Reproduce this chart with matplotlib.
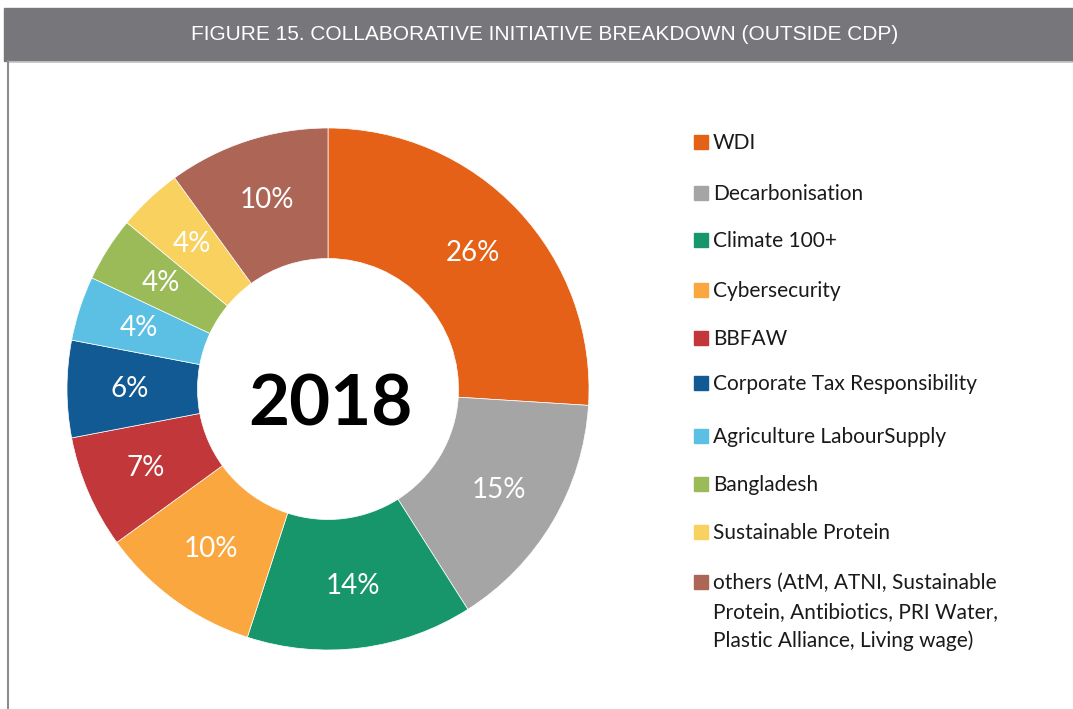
import matplotlib.pyplot as plt
from matplotlib.patches import Rectangle
from matplotlib.lines import Line2D

# data
categories = ['WDI', 'Decarbonisation', 'Climate 100+', 'Cybersecurity', 'BBFAW',
              'Corporate Tax Responsibility', 'Agriculture LabourSupply', 'Bangladesh',
              'Sustainable Protein',
              'others (AtM, ATNI, Sustainable\nProtein, Antibiotics, PRI Water,\nPlastic Alliance, Living wage)']
shares = [26, 15, 14, 10, 7, 6, 4, 4, 4, 10]
colors = ['#E46117', '#A5A5A5', '#17966B', '#F9A73E', '#C1373A',
          '#125A94', '#5BC0E3', '#9BBB59', '#F8D15F', '#AD6556']
title = 'FIGURE 15. COLLABORATIVE INITIATIVE BREAKDOWN (OUTSIDE CDP)'
centerLabel = '2018'

W, H = 1073, 709
fig = plt.figure(figsize=(W / 100, H / 100), dpi=100)

# header bar and frame
fig.patches.append(Rectangle((4 / W, 1 - 61 / H), 1 - 4 / W, 53 / H,
                             transform=fig.transFigure, color='#77777B', zorder=0))
fig.lines.append(Line2D([7.5 / W, 1], [1 - 61.5 / H, 1 - 61.5 / H],
                        transform=fig.transFigure, color='#C8C8C8', lw=1.2))
fig.lines.append(Line2D([7.5 / W, 7.5 / W], [0, 1 - 61 / H],
                        transform=fig.transFigure, color='#8C8C8C', lw=1.5))
fig.text(545 / W, 1 - 35 / H, title, color='white', fontsize=15,
         family='Liberation Sans', ha='center', va='center')

# donut
cx, cy, r = 328, 389, 261
ax = fig.add_axes([(cx - r) / W, (H - cy - r) / H, 2 * r / W, 2 * r / H])
wedges, texts, autotexts = ax.pie(
    shares, colors=colors, startangle=90, counterclock=False, radius=1,
    autopct=lambda p: '%d%%' % round(p), pctdistance=0.76,
    wedgeprops=dict(width=0.5, edgecolor='white', linewidth=0.5),
    textprops=dict(color='white', fontsize=20, family='Lato'))
ax.set_xlim(-1, 1)
ax.set_ylim(-1, 1)
ax.set_aspect('auto')
ax.axis('off')
ax.text(0.01, -0.06, centerLabel, ha='center', va='center', fontsize=51,
        fontweight='bold', family='Lato', color='black')

# legend (va='baseline' aligns the last line, so shift multi-line labels down)
rowY = [142, 193, 240, 290, 338, 383, 436, 484, 532, 582]
lineStep = 29
for label, color, y in zip(categories, colors, rowY):
    fig.patches.append(Rectangle((694 / W, 1 - (y + 7) / H), 14 / W, 14 / H,
                                 transform=fig.transFigure, color=color))
    nExtra = label.count('\n')
    fig.text(713 / W, 1 - (y + 7 + nExtra * lineStep) / H, label, fontsize=15,
             family='Lato', color='#1a1a1a', ha='left', va='baseline',
             linespacing=1.53)

fig.savefig('out.png', dpi=100)
